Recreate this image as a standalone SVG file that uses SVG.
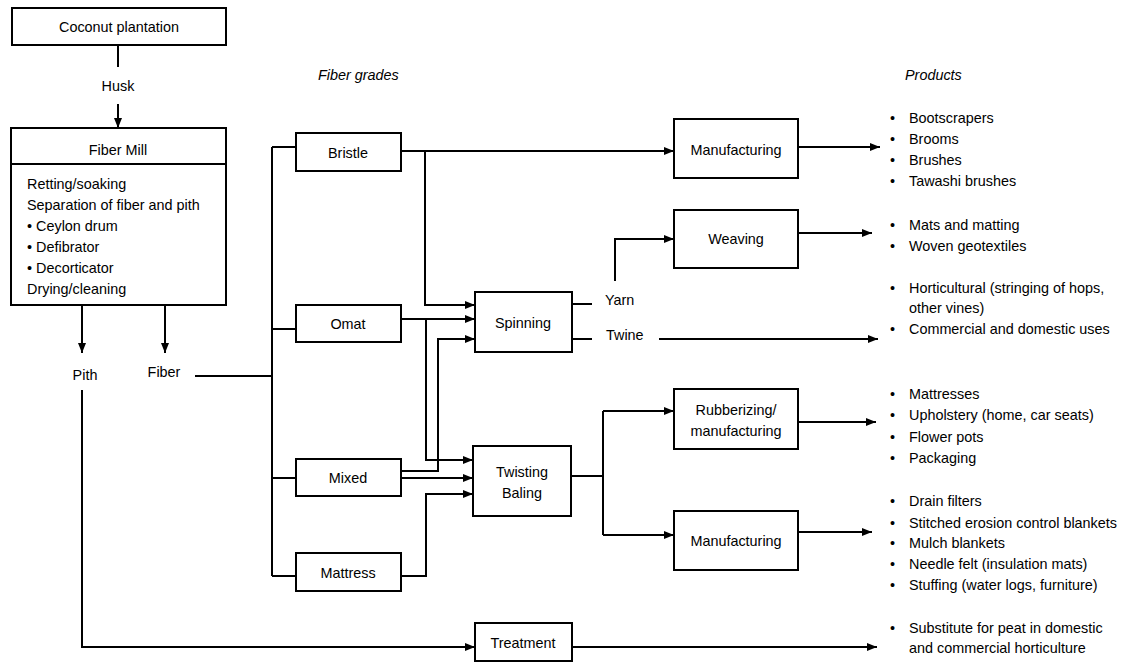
<svg xmlns="http://www.w3.org/2000/svg" width="1122" height="662" viewBox="0 0 1122 662">
<defs>
<marker id="ah" markerUnits="userSpaceOnUse" markerWidth="11" markerHeight="9" refX="10" refY="4" orient="auto"><path d="M0,0 L10,4 L0,8 z" fill="#000"/></marker>
<style>
text{font-family:"Liberation Sans",Arial,sans-serif;font-size:14.4px;fill:#000}
.c{text-anchor:middle}
.i{font-style:italic}
rect,.box{fill:#fff;stroke:#000;stroke-width:2}
.ln{fill:none;stroke:#000;stroke-width:2}
.ar{fill:none;stroke:#000;stroke-width:2;marker-end:url(#ah)}
</style>
</defs>
<rect x="0" y="0" width="1122" height="662" style="fill:#fff;stroke:none"/>

<g id="connectors">
<path class="ln" d="M118,45 V67"/>
<path class="ar" d="M118,104 V128"/>
<path class="ar" d="M82,305 V353"/>
<path class="ar" d="M165,305 V353"/>
<path class="ln" d="M195,376 H272"/>
<path class="ln" d="M272,147 V576"/>
<path class="ln" d="M272,147 H296 M272,329 H296 M272,478 H296 M272,576 H296"/>
<path class="ar" d="M401,151 H674"/>
<path class="ar" d="M425,151 V305 H475"/>
<path class="ar" d="M401,319 H475"/>
<path class="ar" d="M426,319 V460 H473"/>
<path class="ar" d="M401,471 H438 V339 H475"/>
<path class="ar" d="M401,478 H473"/>
<path class="ar" d="M401,576 H426 V494 H473"/>
<path class="ln" d="M572,304 H592 M572,339 H592"/>
<path class="ar" d="M615,281 V239 H674"/>
<path class="ar" d="M659,339 H878"/>
<path class="ln" d="M571,476 H603 M603,411 V535"/>
<path class="ar" d="M603,411 H674"/>
<path class="ar" d="M603,535 H674"/>
<path class="ar" d="M798,147 H880"/>
<path class="ar" d="M798,233 H872"/>
<path class="ar" d="M798,422 H876"/>
<path class="ar" d="M798,532 H872"/>
<path class="ar" d="M82,390 V647 H475"/>
<path class="ar" d="M572,647 H877"/>
</g>

<g id="coconut-plantation"><rect x="12" y="8" width="214" height="37"/><text class="c" x="119" y="32">Coconut plantation</text></g>
<g id="husk"><text class="c" x="118" y="91">Husk</text></g>
<g id="fiber-mill">
<rect x="11" y="128" width="215" height="177"/>
<path class="ln" d="M11,164 H226"/>
<text class="c" x="118" y="155">Fiber Mill</text>
<text x="27" y="189">Retting/soaking</text>
<text x="27" y="210">Separation of fiber and pith</text>
<text x="27" y="231">• Ceylon drum</text>
<text x="27" y="252">• Defibrator</text>
<text x="27" y="273">• Decorticator</text>
<text x="27" y="294">Drying/cleaning</text>
</g>
<g id="pith"><text class="c" x="85" y="380">Pith</text></g>
<g id="fiber"><text class="c" x="164" y="377">Fiber</text></g>
<g id="fiber-grades-label"><text class="i" x="318" y="80">Fiber grades</text></g>
<g id="products-label"><text class="i" x="905" y="80">Products</text></g>

<g id="bristle"><rect x="296" y="133" width="105" height="38"/><text class="c" x="348" y="158">Bristle</text></g>
<g id="omat"><rect x="296" y="305" width="105" height="37"/><text class="c" x="348" y="329">Omat</text></g>
<g id="mixed"><rect x="296" y="459" width="105" height="37"/><text class="c" x="348" y="483">Mixed</text></g>
<g id="mattress"><rect x="296" y="553" width="105" height="38"/><text class="c" x="348" y="578">Mattress</text></g>

<g id="spinning"><rect x="475" y="292" width="97" height="60"/><text class="c" x="523" y="328">Spinning</text></g>
<g id="yarn"><text x="605" y="305">Yarn</text></g>
<g id="twine"><text x="606" y="340">Twine</text></g>
<g id="twisting-baling"><rect x="473" y="446" width="98" height="70"/><text class="c" x="522" y="477">Twisting</text><text class="c" x="522" y="498">Baling</text></g>
<g id="treatment"><rect x="475" y="623" width="97" height="38"/><text class="c" x="523" y="648">Treatment</text></g>

<g id="manufacturing-1"><rect x="674" y="119" width="124" height="59"/><text class="c" x="736" y="155">Manufacturing</text></g>
<g id="weaving"><rect x="674" y="210" width="124" height="58"/><text class="c" x="736" y="244">Weaving</text></g>
<g id="rubberizing"><rect x="674" y="389" width="124" height="60"/><text class="c" x="736" y="415">Rubberizing/</text><text class="c" x="736" y="436">manufacturing</text></g>
<g id="manufacturing-2"><rect x="674" y="511" width="124" height="59"/><text class="c" x="736" y="546">Manufacturing</text></g>

<g id="products-brushes">
<text x="890" y="123">•</text><text x="909" y="123">Bootscrapers</text>
<text x="890" y="144">•</text><text x="909" y="144">Brooms</text>
<text x="890" y="165">•</text><text x="909" y="165">Brushes</text>
<text x="890" y="186">•</text><text x="909" y="186">Tawashi brushes</text>
</g>
<g id="products-woven">
<text x="890" y="230">•</text><text x="909" y="230">Mats and matting</text>
<text x="890" y="251">•</text><text x="909" y="251">Woven geotextiles</text>
</g>
<g id="products-twine">
<text x="890" y="293">•</text><text x="909" y="293">Horticultural (stringing of hops,</text>
<text x="909" y="313">other vines)</text>
<text x="890" y="334">•</text><text x="909" y="334">Commercial and domestic uses</text>
</g>
<g id="products-rubberized">
<text x="890" y="399">•</text><text x="909" y="399">Mattresses</text>
<text x="890" y="420">•</text><text x="909" y="420">Upholstery (home, car seats)</text>
<text x="890" y="442">•</text><text x="909" y="442">Flower pots</text>
<text x="890" y="463">•</text><text x="909" y="463">Packaging</text>
</g>
<g id="products-manufactured">
<text x="890" y="506">•</text><text x="909" y="506">Drain filters</text>
<text x="890" y="528">•</text><text x="909" y="528">Stitched erosion control blankets</text>
<text x="890" y="548">•</text><text x="909" y="548">Mulch blankets</text>
<text x="890" y="569">•</text><text x="909" y="569">Needle felt (insulation mats)</text>
<text x="890" y="590">•</text><text x="909" y="590">Stuffing (water logs, furniture)</text>
</g>
<g id="products-pith">
<text x="890" y="633">•</text><text x="909" y="633">Substitute for peat in domestic</text>
<text x="909" y="653">and commercial horticulture</text>
</g>
</svg>
